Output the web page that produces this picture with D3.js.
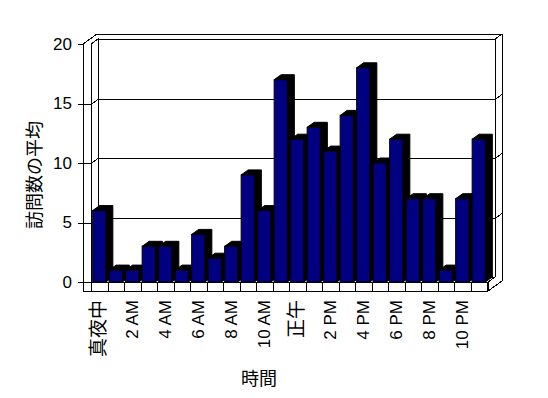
<!DOCTYPE html>
<html>
<head>
  <meta charset="utf-8">
  <script src="https://cdn.jsdelivr.net/npm/d3@7/dist/d3.min.js"></script>
  <style>
    body { margin: 0; background: #fff; }
    text { font-family: "Liberation Sans", "Noto Sans CJK JP", sans-serif; }
  </style>
</head>
<body>
<svg width="548" height="398"></svg>

<script type="text/javascript">

// hourly averages, midnight to 11 PM
var hours = d3.range(24);
var visits = [6, 1, 1, 3, 3, 1, 4, 2, 3, 9, 6, 17, 12, 13, 11, 14, 18, 10, 12, 7, 7, 1, 7, 12];
var hourLabels = ["真夜中", "", "2 AM", "", "4 AM", "", "6 AM", "", "8 AM", "", "10 AM", "",
                  "正午", "", "2 PM", "", "4 PM", "", "6 PM", "", "8 PM", "", "10 PM", ""];
var yTicks = [0, 5, 10, 15, 20];

var svg = d3.select("svg");

// front plane of the box and the depth shift to the back wall
var outerLeft = 83, left = 91, right = 487, floorBottom = 291;
var dx = 7, dy = -5;

var y = d3.scaleLinear().domain([0, 20]).range([282, 44]);
var x = d3.scaleBand().domain(hours).range([left, right])
    .paddingInner(0.2).paddingOuter(0.1);

function line(pts) {
  svg.append("path")
    .attr("d", d3.line()(pts))
    .attr("fill", "none")
    .attr("stroke", "black")
    .attr("stroke-width", 1)
    .attr("shape-rendering", "crispEdges");
}

var yTop = y(20), base = y(0);

// outline of the walls and floor
svg.append("path")
  .attr("d", d3.line()([[outerLeft, floorBottom], [outerLeft, yTop], [outerLeft + 2 * dx, yTop + 2 * dy],
      [right + 1 + 2 * dx, yTop + 2 * dy], [right + 1 + 2 * dx, floorBottom + 2 * dy], [right + 1, floorBottom]]) + "Z")
  .attr("fill", "white")
  .attr("stroke", "black")
  .attr("shape-rendering", "crispEdges");

line([[left, base], [left, yTop], [left + dx, yTop + dy], [left + dx, base + dy]]);
line([[left + dx, yTop + dy], [right + dx + 1, yTop + dy], [right + dx + 1, base + dy]]);
line([[right + dx + 1, yTop + dy], [right + 1 + 2 * dx, yTop + 2 * dy]]);
line([[left + dx, base + dy], [right + dx + 1, base + dy]]);
line([[right + 1, base], [right + dx + 1, base + dy]]);

// gridlines on side and back wall, plus tick marks
yTicks.forEach(function(v) {
  var yy = Math.round(y(v)) + 0.5;
  line([[outerLeft - 5, yy], [outerLeft, yy]]);
  if (v > 0 && v < 20) {
    line([[outerLeft, yy], [left, yy], [left + dx, yy + dy], [right + dx + 1, yy + dy],
          [right + 1 + 2 * dx, yy + 2 * dy]]);
  }
});

// front face of the floor with category dividers
line([[outerLeft, base], [right + 1, base], [right + 1, floorBottom]]);
hours.concat([24]).forEach(function(i) {
  var xx = Math.round(left + i * x.step()) + 0.5;
  line([[xx, base], [xx, floorBottom]]);
});

// y tick labels
var yAxis = svg.append("g")
  .attr("transform", "translate(" + outerLeft + ",0)")
  .call(d3.axisLeft(y).tickValues(yTicks).tickSize(0).tickPadding(11));
yAxis.select(".domain").remove();
yAxis.selectAll("text")
  .style("font-family", "'Liberation Sans', sans-serif")
  .style("font-size", "17px")
  .attr("fill", "black");

// 3D columns
var w = x.bandwidth();
var bars = svg.selectAll("g.bar")
  .data(visits)
  .enter()
  .append("g")
    .attr("class", "bar");

bars.append("path")
  .attr("d", function(d, i) {
    var x0 = x(i), y1 = y(d);
    return d3.line()([[x0, y1], [x0 + dx, y1 + dy], [x0 + w + dx, y1 + dy],
      [x0 + w + dx, base + dy], [x0 + w, base], [x0 + w, y1]]) + "Z";
  })
  .attr("fill", "black")
  .attr("stroke", "black");

bars.append("rect")
  .attr("x", function(d, i) { return x(i); })
  .attr("y", function(d) { return y(d); })
  .attr("width", w)
  .attr("height", function(d) { return base - y(d); })
  .attr("fill", "#000080")
  .attr("stroke", "black");

// hour labels, rotated
svg.selectAll("text.hour")
  .data(hourLabels)
  .enter()
  .append("text")
    .attr("class", "hour")
    .attr("transform", function(d, i) {
      return "translate(" + (x(i) + w / 2 + 6) + ",300) rotate(-90)";
    })
    .attr("text-anchor", "end")
    .style("font-size", function(d) { return /[A-Z]/.test(d) ? "17px" : "19px"; })
    .text(function(d) { return d; });

// axis titles
svg.append("text")
  .attr("transform", "translate(41,175) rotate(-90)")
  .attr("text-anchor", "middle")
  .style("font-size", "18px")
  .text("訪問数の平均");

svg.append("text")
  .attr("x", 259)
  .attr("y", 385)
  .attr("text-anchor", "middle")
  .style("font-size", "18px")
  .text("時間");

</script>
</body>
</html>
